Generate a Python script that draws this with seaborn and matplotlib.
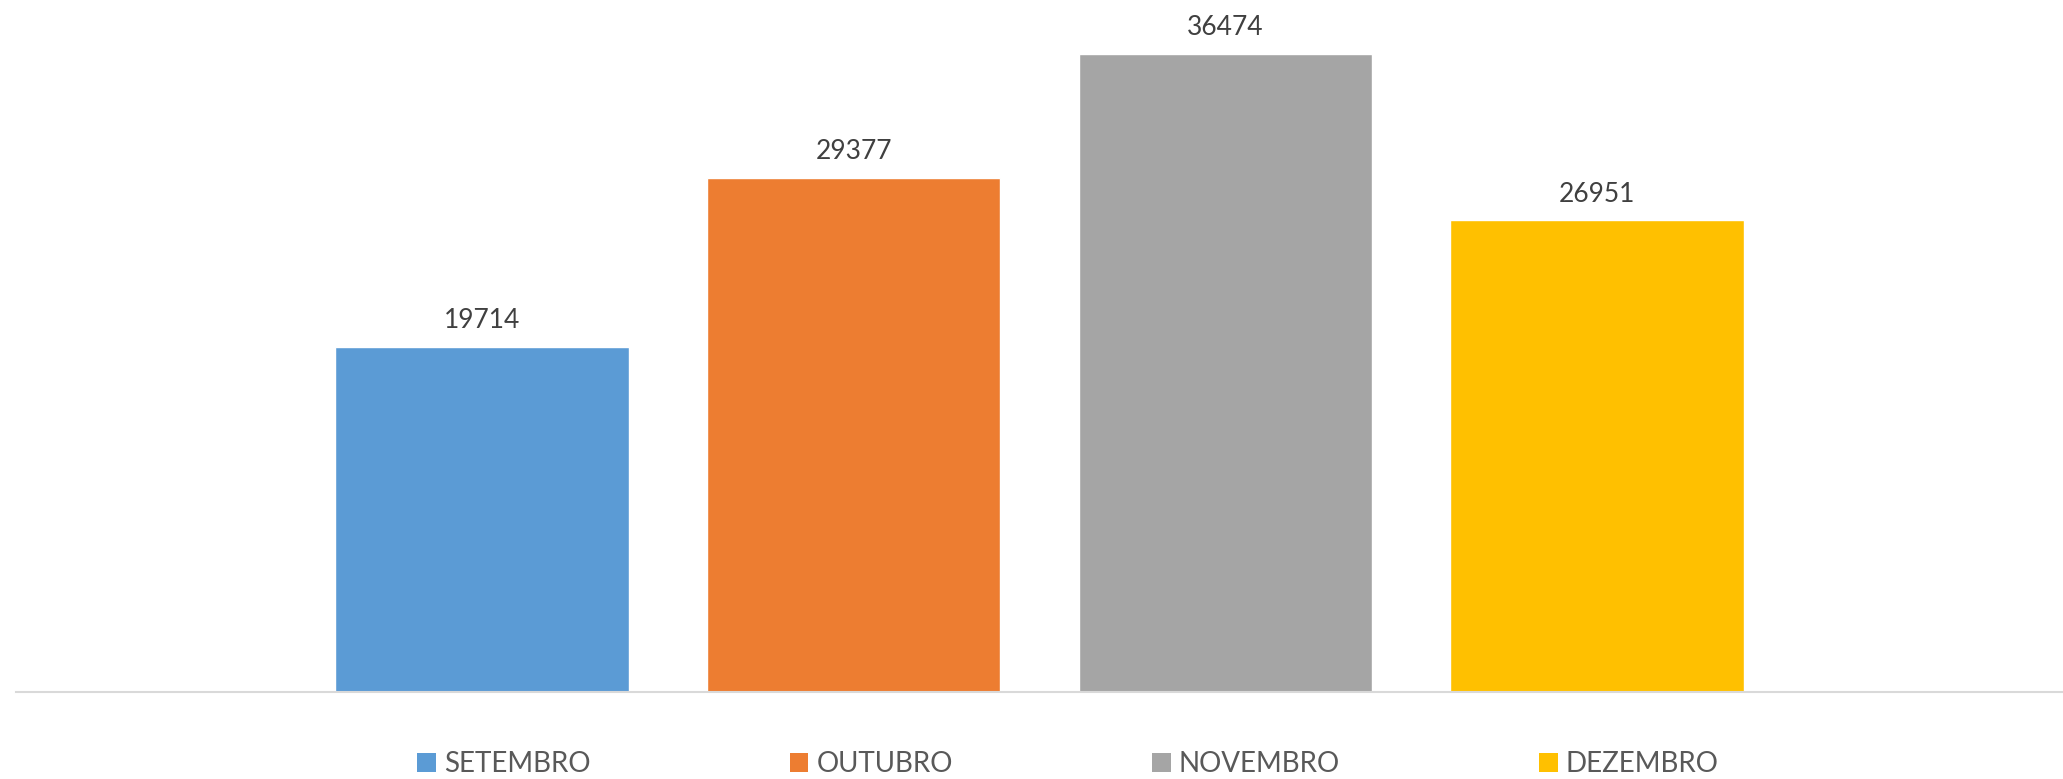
import matplotlib

matplotlib.use("Agg")
import matplotlib.pyplot as plt
import seaborn as sns
from matplotlib.patches import Patch

months = ["SETEMBRO", "OUTUBRO", "NOVEMBRO", "DEZEMBRO"]
totals = [19714, 29377, 36474, 26951]
colors = ["#5B9BD5", "#ED7D31", "#A5A5A5", "#FFC000"]


def main():
    sns.set_theme(style="white")
    plt.rcParams["font.family"] = ["Lato", "DejaVu Sans"]

    fig = plt.figure(figsize=(20.63, 7.79), dpi=100)
    ax = fig.add_axes([16 / 2063, 1 - 692 / 779, 1 - 16 / 2063, 692 / 779])

    sns.barplot(
        x=months,
        y=totals,
        hue=months,
        palette=colors,
        width=0.79,
        saturation=1,
        legend=False,
        ax=ax,
    )

    for container in ax.containers:
        ax.bar_label(container, padding=10, fontsize=19, color="#404040")

    ax.set_xlim(-1.254, 4.254)
    ax.set_ylim(0, 39550)
    ax.set_xticks([])
    ax.set_yticks([])
    sns.despine(ax=ax, left=True, top=True, right=True)
    ax.spines["bottom"].set_color("#D9D9D9")
    ax.spines["bottom"].set_linewidth(1.5)

    handles = [Patch(facecolor=c, edgecolor="none") for c in colors]
    fig.legend(
        handles,
        months,
        loc="center",
        bbox_to_anchor=(1068 / 2063, 1 - 764 / 779),
        ncol=4,
        frameon=False,
        fontsize=20,
        labelcolor="#595959",
        handlelength=0.68,
        handleheight=0.68,
        handletextpad=0.3,
        columnspacing=7.15,
    )

    fig.savefig("out.png", dpi=100)
    plt.close(fig)


if __name__ == "__main__":
    main()
